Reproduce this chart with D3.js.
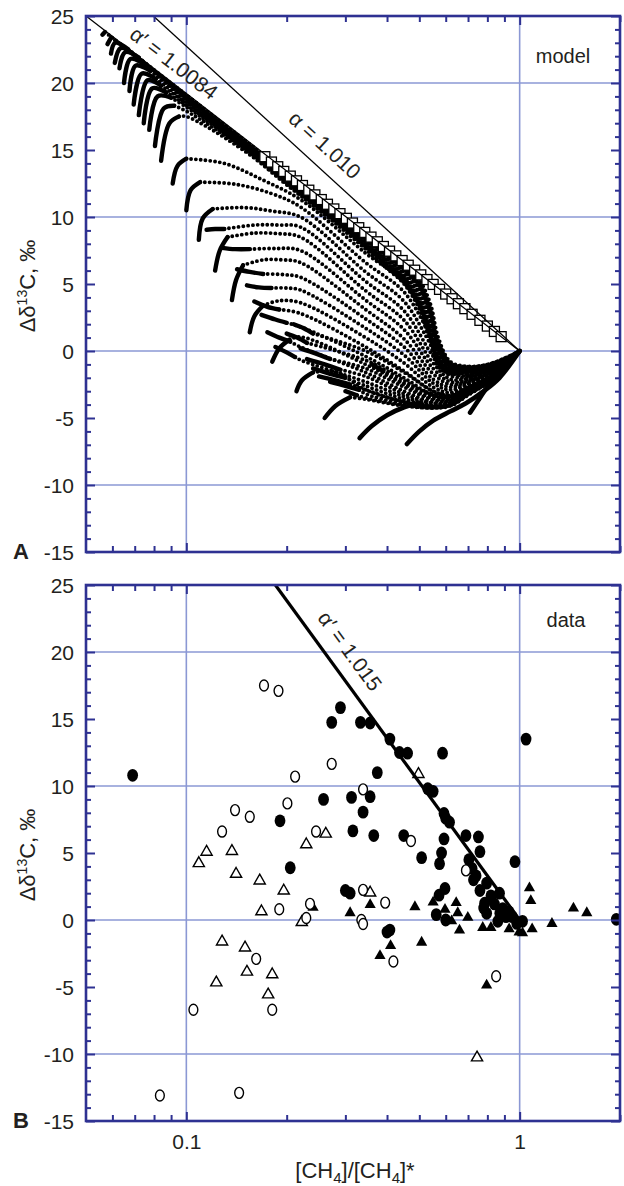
<!DOCTYPE html>
<html><head><meta charset="utf-8">
<script src="https://cdn.jsdelivr.net/npm/d3@7"></script>
<style>
body{margin:0;background:#fff}
svg{display:block}
text{font-family:"Liberation Sans",Arial,Helvetica,sans-serif;fill:#231f20}
</style>
</head><body>
<svg id="chart" width="624" height="1186"></svg>
<script>
// ---------------- axes / ticks ----------------
const X_DOMAIN = [0.05, 2];
const Y_DOMAIN = [-15, 25];
const xMajorTicks = [0.1, 1];
const xMajorLabels = ["0.1", "1"];
const xMinorTicks = [0.06, 0.07, 0.08, 0.09, 0.2, 0.3, 0.4, 0.5, 0.6, 0.7, 0.8, 0.9, 2];
const yMajorTicks = [-15, -10, -5, 0, 5, 10, 15, 20, 25];
const yMajorLabels = ["-15", "-10", "-5", "0", "5", "10", "15", "20", "25"];
const yMinorTicks = [-14,-13,-12,-11,-9,-8,-7,-6,-4,-3,-2,-1,1,2,3,4,6,7,8,9,11,12,13,14,16,17,18,19,21,22,23,24];
const yGridLines = [-10, 0, 10, 20];
const xGridLines = [0.1, 1];

// ---------------- panel A : model ----------------
const alphaLineA = [[0.0796, 25], [1, 0]];        // α = 1.010
const alphaPrimeLineA = [[0.05, 25], [1, 0]];     // α' = 1.0084
const squaresX = [0.172,0.18,0.188,0.196,0.205,0.214,0.223,0.233,0.243,0.254,0.265,0.277,0.289,0.302,0.315,0.329,0.343,0.358,0.374,0.39,0.407,0.425,0.444,0.463,0.484,0.505,0.527,0.55,0.575,0.6,0.627,0.655,0.685,0.72,0.76,0.8,0.84,0.88];
const squaresY = [14.5,14.1,13.75,13.4,13.05,12.7,12.35,12.0,11.65,11.3,10.95,10.6,10.25,9.9,9.55,9.2,8.85,8.5,8.15,7.8,7.45,7.1,6.75,6.4,6.03,5.68,5.33,4.97,4.6,4.25,3.9,3.53,3.16,2.74,2.29,1.86,1.46,1.07];

// upper trajectories hugging the α' line: hook start, then common x columns
const kStarts = [
  [[0.056,23.6],[0.057,23.8]],
  [[0.058,22.9],[0.0595,23.4]],
  [[0.0594,22.2],[0.0612,23.0],[0.067,22.5]],
  [[0.061,21.5],[0.0635,22.6],[0.069,22.2]],
  [[0.063,21.1],[0.0655,22.3],[0.072,21.9]],
  [[0.065,20.0],[0.068,21.8],[0.075,21.4]],
  [[0.0675,19.4],[0.0705,21.3],[0.078,20.9]],
  [[0.0695,18.4],[0.0735,20.7],[0.081,20.3]],
  [[0.072,17.6],[0.0765,20.2],[0.084,19.8]],
  [[0.0745,17.0],[0.079,19.6],[0.087,19.3]],
  [[0.0774,16.5],[0.082,19.0],[0.09,18.9]],
  [[0.0805,15.3],[0.0855,18.1],[0.092,18.3]],
  [[0.084,14.2],[0.089,17.0],[0.095,17.5]]
];
const kTailX = [0.1,0.15,0.2,0.3,0.4,0.45,0.5,0.54,0.57,0.62,0.7,0.8,0.9,1.0];
const kTailY = [
  [19.1,15.7,13.3,9.9,7.45,6.4,5.3,3.5,1.0,-0.8,-1.15,-1.0,-0.55,0],
  [19.05,15.65,13.22,9.82,7.35,6.3,5.15,3.25,0.75,-0.88,-1.18,-1.02,-0.56,0],
  [19.0,15.6,13.15,9.75,7.25,6.2,5.0,3.0,0.5,-0.95,-1.22,-1.05,-0.58,0],
  [18.93,15.55,13.07,9.68,7.15,6.1,4.85,2.75,0.3,-1.02,-1.26,-1.07,-0.6,0],
  [18.85,15.5,13.0,9.6,7.05,6.0,4.7,2.5,0.1,-1.1,-1.3,-1.1,-0.62,0],
  [18.78,15.45,12.92,9.52,6.95,5.88,4.5,2.25,-0.1,-1.17,-1.33,-1.12,-0.64,0],
  [18.7,15.4,12.85,9.45,6.85,5.75,4.3,2.0,-0.3,-1.25,-1.37,-1.15,-0.66,0],
  [18.6,15.32,12.77,9.38,6.75,5.62,4.1,1.75,-0.45,-1.32,-1.41,-1.17,-0.68,0],
  [18.5,15.25,12.7,9.3,6.65,5.5,3.9,1.5,-0.6,-1.4,-1.45,-1.2,-0.7,0],
  [18.35,15.17,12.62,9.2,6.52,5.37,3.7,1.25,-0.75,-1.47,-1.48,-1.22,-0.71,0],
  [18.2,15.1,12.55,9.1,6.4,5.25,3.5,1.0,-0.9,-1.55,-1.52,-1.25,-0.73,0],
  [17.9,15.0,12.47,9.0,6.27,5.12,3.3,0.75,-1.05,-1.62,-1.56,-1.27,-0.75,0],
  [17.5,14.9,12.4,8.9,6.15,5.0,3.1,0.5,-1.2,-1.7,-1.6,-1.3,-0.77,0]
];

// fanned trajectories: solid start (hook or straight), middle points, common x columns
const cStarts = [
  [[0.091,12.5],[0.094,13.8],[0.1,14.35]],
  [[0.1,10.5],[0.103,12.0],[0.11,12.6]],
  [[0.109,8.3],[0.112,9.9],[0.12,10.6]],
  [[0.115,9.05],[0.122,9.1],[0.13,9.1]],
  [[0.122,6.0],[0.126,7.5],[0.133,8.5]],
  [[0.128,7.7],[0.14,7.6],[0.155,7.6]],
  [[0.137,3.8],[0.141,5.3],[0.148,6.4]],
  [[0.142,6.1],[0.155,5.9],[0.17,5.75]],
  [[0.152,4.9],[0.165,4.75],[0.18,4.7]],
  [[0.155,1.4],[0.16,2.6],[0.17,3.4]],
  [[0.16,3.7],[0.175,3.3],[0.19,3.1]],
  [[0.168,2.7],[0.185,2.35],[0.2,2.1]],
  [[0.181,-0.8],[0.19,0.2],[0.204,0.85]],
  [[0.175,1.4],[0.19,1.0],[0.205,0.7]],
  [[0.185,0.3],[0.2,-0.1],[0.212,-0.45]],
  [[0.214,-3.0],[0.222,-2.2],[0.24,-1.6]],
  [[0.26,-5.0],[0.28,-4.1],[0.31,-3.45]]
];
const cMids = [
  [[0.13,14.0],[0.17,12.75]],
  [[0.14,12.45],[0.18,11.75]],
  [[0.15,10.7],[0.18,10.45]],
  [[0.16,9.4],[0.19,9.4]],
  [[0.16,8.8],[0.19,8.75]],
  [[0.185,7.65]],
  [[0.17,6.8],[0.195,6.8]],
  [[0.195,5.7]],
  [[0.2,4.7]],
  [[0.19,3.75]],
  [], [], [], [], [],
  [[0.28,-1.55]],
  []
];
const cTailX = [0.22,0.345,0.45,0.55,0.62,0.7,0.8,0.9,1.0];
const cTailY = [
  [11.3,7.3,5.1,1.4,-1.0,-1.65,-1.35,-0.8,0],
  [10.75,6.6,4.4,0.8,-1.3,-1.75,-1.4,-0.83,0],
  [10.0,5.9,3.7,0.2,-1.6,-1.85,-1.47,-0.86,0],
  [9.25,5.2,3.0,-0.4,-1.85,-1.95,-1.53,-0.9,0],
  [8.5,4.5,2.3,-0.9,-2.1,-2.05,-1.6,-0.93,0],
  [7.5,3.8,1.6,-1.3,-2.3,-2.15,-1.67,-0.96,0],
  [6.6,3.1,0.9,-1.7,-2.5,-2.25,-1.73,-1.0,0],
  [5.5,2.4,0.3,-2.1,-2.7,-2.35,-1.8,-1.03,0],
  [4.55,1.7,-0.3,-2.4,-2.9,-2.45,-1.87,-1.06,0],
  [3.6,1.0,-0.9,-2.7,-3.1,-2.55,-1.93,-1.1,0],
  [2.8,0.3,-1.5,-3.0,-3.3,-2.65,-2.0,-1.13,0],
  [1.8,-0.4,-2.0,-3.3,-3.45,-2.75,-2.07,-1.16,0],
  [1.05,-1.0,-2.5,-3.55,-3.6,-2.85,-2.13,-1.2,0],
  [0.3,-1.6,-3.0,-3.8,-3.75,-2.95,-2.2,-1.23,0],
  [-0.67,-2.3,-3.4,-4.0,-3.9,-3.05,-2.27,-1.26,0],
  [null,-2.9,-3.8,-4.15,-4.0,-3.15,-2.33,-1.28,0],
  [null,-3.6,-4.1,-4.25,-4.1,-3.3,-2.4,-1.3,0]
];
// extra trajectories packed into the lower band
const bandStarts = [
  [[0.2,1.3],[0.215,1.0],[0.23,0.6]],
  [[0.21,2.0],[0.225,1.7],[0.24,1.3]],
  [[0.22,0.2],[0.245,-0.2],[0.27,-0.6]],
  [[0.23,-0.6],[0.26,-1.0],[0.29,-1.4]],
  [[0.24,-1.3],[0.27,-1.7],[0.3,-2.0]],
  [[0.25,-1.9],[0.28,-2.2],[0.31,-2.5]],
  [[0.27,-2.3],[0.3,-2.6],[0.33,-2.9]],
  [[0.3,-3.0],[0.325,-3.3]],
  [[0.36,-1.0],[0.39,-1.5]]
];
const bandTailX = [0.345,0.45,0.55,0.62,0.7,0.8,0.9,1.0];
const bandTailY = [
  [-0.7,-2.2,-3.4,-3.5,-2.8,-2.1,-1.18,0],
  [0.0,-1.6,-3.0,-3.3,-2.7,-2.05,-1.15,0],
  [-1.3,-2.7,-3.65,-3.7,-2.9,-2.18,-1.22,0],
  [-1.9,-3.2,-3.9,-3.85,-3.0,-2.25,-1.25,0],
  [-2.6,-3.6,-4.1,-3.95,-3.1,-2.3,-1.27,0],
  [-2.9,-3.8,-4.15,-4.0,-3.15,-2.33,-1.28,0],
  [-3.2,-3.95,-4.2,-4.05,-3.2,-2.37,-1.29,0],
  [-3.5,-4.05,-4.25,-4.05,-3.25,-2.38,-1.3,0],
  [-1.2,-2.4,-3.2,-3.4,-2.75,-2.08,-1.17,0]
];
// lowest trajectories, drawn solid
const solidTrajectories = [
  [[0.331,-6.5],[0.36,-5.6],[0.4,-4.8],[0.45,-4.2],[0.5,-3.9]],
  [[0.459,-6.94],[0.5,-6.0],[0.55,-5.2],[0.62,-4.5],[0.69,-3.9],[0.78,-3.0],[0.87,-2.0],[1,0]],
  [[0.71,-4.6],[0.76,-3.5],[0.81,-2.5],[0.9,-1.25],[1,0]]
];

// ---------------- panel B : data ----------------
const alphaPrimeLineB = [[0.185, 25], [1, 0]];    // α' = 1.015
const filledCirclesX = [0.069,0.191,0.205,0.258,0.29,0.273,0.333,0.356,0.408,0.436,0.461,0.587,0.374,1.045,0.53,0.55,0.313,0.356,0.339,0.593,0.6,0.616,0.316,0.365,0.449,0.69,0.752,0.593,0.508,0.583,0.575,0.76,0.968,0.704,0.72,0.727,0.796,0.87,0.31,0.3,0.597,0.573,0.562,0.785,0.796,0.872,0.91,0.98,0.89,0.95,1.02,0.6,0.408,0.4,1.95,0.74,0.76,0.82,0.84,0.78,0.93,0.86];
const filledCirclesY = [10.8,7.4,3.9,9.0,15.85,14.75,14.75,14.7,13.5,12.5,12.45,12.45,11.0,13.5,9.8,9.6,9.15,9.2,8.05,7.95,7.6,7.3,6.65,6.3,6.3,6.3,6.2,6.05,4.65,5.0,4.2,5.1,4.35,4.5,3.85,3.0,2.75,2.0,2.0,2.2,2.35,1.85,0.4,1.25,0.5,0.5,0.25,-0.25,0.85,0.25,-0.1,0.0,-0.75,-0.9,0.05,3.3,2.2,1.8,1.2,0.9,0.6,-0.1];
const openCirclesX = [0.171,0.189,0.212,0.201,0.14,0.155,0.128,0.245,0.273,0.339,0.472,0.69,0.19,0.235,0.229,0.162,0.105,0.181,0.0833,0.144,0.339,0.395,0.335,0.339,0.418,0.85];
const openCirclesY = [17.5,17.1,10.7,8.7,8.2,7.7,6.6,6.6,11.65,9.75,5.9,3.7,0.8,1.2,0.15,-2.9,-6.7,-6.7,-13.1,-12.9,2.25,1.3,0.0,-0.3,-3.1,-4.2];
const openTrianglesX = [0.229,0.115,0.109,0.137,0.141,0.166,0.196,0.168,0.222,0.128,0.15,0.152,0.181,0.123,0.176,0.262,0.497,0.356,0.745];
const openTrianglesY = [5.7,5.15,4.3,5.2,3.5,3.0,2.25,0.7,-0.1,-1.55,-2.0,-3.8,-4.0,-4.6,-5.5,6.5,10.95,2.1,-10.2];
const filledTrianglesX = [0.24,0.31,0.356,0.485,0.597,0.645,0.652,0.699,0.625,0.66,0.41,0.508,0.381,0.775,0.82,0.996,1.09,1.25,1.07,1.08,1.45,1.59,0.796,0.55,0.93,1.02];
const filledTrianglesY = [1.0,0.6,1.2,1.05,0.85,1.35,0.6,0.25,0.0,-0.7,-1.85,-1.6,-2.6,-0.5,-0.5,-0.85,-0.6,-0.2,2.45,1.5,0.95,0.6,-4.8,1.4,-0.6,-0.9];

// ---------------- drawing ----------------
const AXIS = "#2e3192", GRID = "#8b98d4";
const L = 86, R = 620;
const svg = d3.select("#chart");
const x = d3.scaleLog().domain(X_DOMAIN).range([L, R]);
const panels = [
  {top: 16, bottom: 552, letter: "A", tag: "model"},
  {top: 585, bottom: 1121, letter: "B", tag: "data"}
];
panels.forEach(p => { p.y = d3.scaleLinear().domain(Y_DOMAIN).range([p.bottom, p.top]); });

const defs = svg.append("defs");
panels.forEach((p, i) => {
  defs.append("clipPath").attr("id", "clip" + i).append("rect")
    .attr("x", L).attr("y", p.top).attr("width", R - L).attr("height", p.bottom - p.top);
});

function gridAndAxes(p, i) {
  const g = svg.append("g");
  g.selectAll(".hg").data(yGridLines).join("line")
    .attr("x1", L).attr("x2", R).attr("y1", d => p.y(d)).attr("y2", d => p.y(d))
    .attr("stroke", GRID).attr("stroke-width", 1.6);
  g.selectAll(".vg").data(xGridLines).join("line")
    .attr("y1", p.top).attr("y2", p.bottom).attr("x1", d => x(d)).attr("x2", d => x(d))
    .attr("stroke", GRID).attr("stroke-width", 1.6);
}

function frame(p, i) {
  const g = svg.append("g");
  const style = sel => {
    sel.select(".domain").remove();
    sel.selectAll(".tick line").attr("stroke", AXIS).attr("stroke-width", 2);
  };
  g.append("g").attr("transform", `translate(${L},0)`)
    .call(d3.axisLeft(p.y).tickValues(yMajorTicks).tickSize(-9).tickPadding(12)
      .tickFormat((d, k) => yMajorLabels[k]))
    .call(style)
    .call(s => s.selectAll("text").attr("font-size", 21).attr("fill", "#231f20")
      .attr("font-family", "Liberation Sans, Arial, sans-serif").attr("dy", "0.36em"));
  g.append("g").attr("transform", `translate(${L},0)`)
    .call(d3.axisLeft(p.y).tickValues(yMinorTicks).tickSize(-5).tickFormat("")).call(style);
  g.append("g").attr("transform", `translate(${R},0)`)
    .call(d3.axisRight(p.y).tickValues(yMajorTicks).tickSize(-9).tickFormat("")).call(style);
  g.append("g").attr("transform", `translate(${R},0)`)
    .call(d3.axisRight(p.y).tickValues(yMinorTicks).tickSize(-5).tickFormat("")).call(style);
  g.append("g").attr("transform", `translate(0,${p.top})`)
    .call(d3.axisTop(x).tickValues(xMajorTicks).tickSize(-9).tickFormat("")).call(style);
  g.append("g").attr("transform", `translate(0,${p.top})`)
    .call(d3.axisTop(x).tickValues(xMinorTicks).tickSize(-6).tickFormat("")).call(style);
  const bottomMajor = d3.axisBottom(x).tickValues(xMajorTicks).tickSize(-9).tickPadding(13)
    .tickFormat((d, k) => i === 1 ? xMajorLabels[k] : "");
  g.append("g").attr("transform", `translate(0,${p.bottom})`).call(bottomMajor).call(style)
    .call(s => s.selectAll("text").attr("font-size", 21).attr("fill", "#231f20")
      .attr("font-family", "Liberation Sans, Arial, sans-serif"));
  g.append("g").attr("transform", `translate(0,${p.bottom})`)
    .call(d3.axisBottom(x).tickValues(xMinorTicks).tickSize(-6).tickFormat("")).call(style);
  g.append("rect").attr("x", L).attr("y", p.top).attr("width", R - L).attr("height", p.bottom - p.top)
    .attr("fill", "none").attr("stroke", AXIS).attr("stroke-width", 2.6);

  svg.append("text").attr("x", 13).attr("y", p.bottom + 7).attr("font-size", 22)
    .attr("font-weight", "bold").text(p.letter);
  svg.append("text").attr("x", i === 0 ? 563 : 566).attr("y", p.top + (i === 0 ? 47 : 42))
    .attr("text-anchor", "middle").attr("font-size", 20).text(p.tag);
  const yt = svg.append("text").attr("text-anchor", "middle").attr("font-size", 22)
    .attr("transform", `translate(35,${(p.top + p.bottom) / 2 + 2}) rotate(-90)`);
  yt.append("tspan").text("Δδ");
  yt.append("tspan").attr("font-size", 14).attr("dy", -8).text("13");
  yt.append("tspan").attr("dy", 8).text("C, ‰");
}

// ---- panel A ----
const pA = panels[0];
gridAndAxes(pA, 0);
const gA = svg.append("g").attr("clip-path", "url(#clip0)");
const lineA = d3.line().x(d => x(d[0])).y(d => pA.y(d[1])).curve(d3.curveCatmullRom.alpha(0.5));
const straightA = d3.line().x(d => x(d[0])).y(d => pA.y(d[1]));

function drawTrajectory(start, rest) {
  gA.append("path").attr("d", lineA(start)).attr("fill", "none").attr("stroke", "#000")
    .attr("stroke-width", 4.4).attr("stroke-linecap", "round");
  const pts = [start[start.length - 1]].concat(rest);
  gA.append("path").attr("d", lineA(pts)).attr("fill", "none").attr("stroke", "#000")
    .attr("stroke-width", 3.9).attr("stroke-linecap", "round").attr("stroke-dasharray", "0 4.8");
}
kStarts.forEach((s, i) => {
  const last = s[s.length - 1][0];
  const tail = kTailX.map((xx, j) => [xx, kTailY[i][j]]).filter(d => d[0] > last);
  drawTrajectory(s, tail);
});
cStarts.forEach((s, i) => {
  const mids = cMids[i];
  const last = (mids.length ? mids[mids.length - 1] : s[s.length - 1])[0];
  const tail = cTailX.map((xx, j) => [xx, cTailY[i][j]]).filter(d => d[1] !== null && d[0] > last + 0.004);
  drawTrajectory(s, mids.concat(tail));
});
bandStarts.forEach((s, i) => {
  const last = s[s.length - 1][0];
  const tail = bandTailX.map((xx, j) => [xx, bandTailY[i][j]]).filter(d => d[0] > last + 0.004);
  drawTrajectory(s, tail);
});
solidTrajectories.forEach(t => {
  gA.append("path").attr("d", lineA(t)).attr("fill", "none").attr("stroke", "#000")
    .attr("stroke-width", 4.6).attr("stroke-linecap", "round");
});
const sq = 10;
gA.selectAll(".sq").data(squaresX.map((d, i) => [d, squaresY[i]])).join("rect")
  .attr("x", d => x(d[0]) - sq / 2).attr("y", d => pA.y(d[1]) - sq / 2)
  .attr("width", sq).attr("height", sq).attr("fill", "#fff").attr("stroke", "#000").attr("stroke-width", 1.3);
gA.append("path").attr("d", straightA(alphaPrimeLineA)).attr("stroke", "#000").attr("stroke-width", 1.3).attr("fill", "none");
gA.append("path").attr("d", straightA(alphaLineA)).attr("stroke", "#000").attr("stroke-width", 1.3).attr("fill", "none");

function angleOf(seg, ys) {
  const dx = x(seg[1][0]) - x(seg[0][0]), dy = ys(seg[1][1]) - ys(seg[0][1]);
  return Math.atan2(dy, dx) * 180 / Math.PI;
}
svg.append("text").attr("text-anchor", "middle").attr("font-size", 21)
  .attr("transform", `translate(174,63) rotate(${angleOf(alphaPrimeLineA, pA.y)})`).attr("dy", "0.35em")
  .text("α′ = 1.0084");
svg.append("text").attr("text-anchor", "middle").attr("font-size", 21)
  .attr("transform", `translate(325,145) rotate(${angleOf(alphaLineA, pA.y)})`).attr("dy", "0.35em")
  .text("α = 1.010");
frame(pA, 0);

// ---- panel B ----
const pB = panels[1];
gridAndAxes(pB, 1);
const gB = svg.append("g").attr("clip-path", "url(#clip1)");
const zip = (xs, ys) => xs.map((d, i) => [d, ys[i]]);
const tri = "M0,-5.6L5.6,4.2L-5.6,4.2Z";
gB.selectAll(".ft").data(zip(filledTrianglesX, filledTrianglesY)).join("path")
  .attr("d", tri).attr("transform", d => `translate(${x(d[0])},${pB.y(d[1])})`).attr("fill", "#000");
gB.selectAll(".fc").data(zip(filledCirclesX, filledCirclesY)).join("ellipse")
  .attr("cx", d => x(d[0])).attr("cy", d => pB.y(d[1])).attr("rx", 5.4).attr("ry", 6.4).attr("fill", "#000");
gB.selectAll(".ot").data(zip(openTrianglesX, openTrianglesY)).join("path")
  .attr("d", tri).attr("transform", d => `translate(${x(d[0])},${pB.y(d[1])})`)
  .attr("fill", "#fff").attr("stroke", "#000").attr("stroke-width", 1.4);
gB.selectAll(".oc").data(zip(openCirclesX, openCirclesY)).join("ellipse")
  .attr("cx", d => x(d[0])).attr("cy", d => pB.y(d[1])).attr("rx", 4.4).attr("ry", 5.5)
  .attr("fill", "#fff").attr("stroke", "#000").attr("stroke-width", 1.4);
const straightB = d3.line().x(d => x(d[0])).y(d => pB.y(d[1]));
gB.append("path").attr("d", straightB(alphaPrimeLineB)).attr("stroke", "#000").attr("stroke-width", 3.2).attr("fill", "none");
svg.append("text").attr("text-anchor", "middle").attr("font-size", 21)
  .attr("transform", `translate(350,651) rotate(${angleOf(alphaPrimeLineB, pB.y)})`).attr("dy", "0.35em")
  .text("α′ = 1.015");
frame(pB, 1);

const xt = svg.append("text").attr("x", (L + R) / 2 + 2).attr("y", 1178).attr("text-anchor", "middle").attr("font-size", 22);
xt.append("tspan").text("[CH");
xt.append("tspan").attr("font-size", 15).attr("dy", 5).text("4");
xt.append("tspan").attr("dy", -5).text("]/[CH");
xt.append("tspan").attr("font-size", 15).attr("dy", 5).text("4");
xt.append("tspan").attr("dy", -5).text("]*");
</script>
</body></html>
